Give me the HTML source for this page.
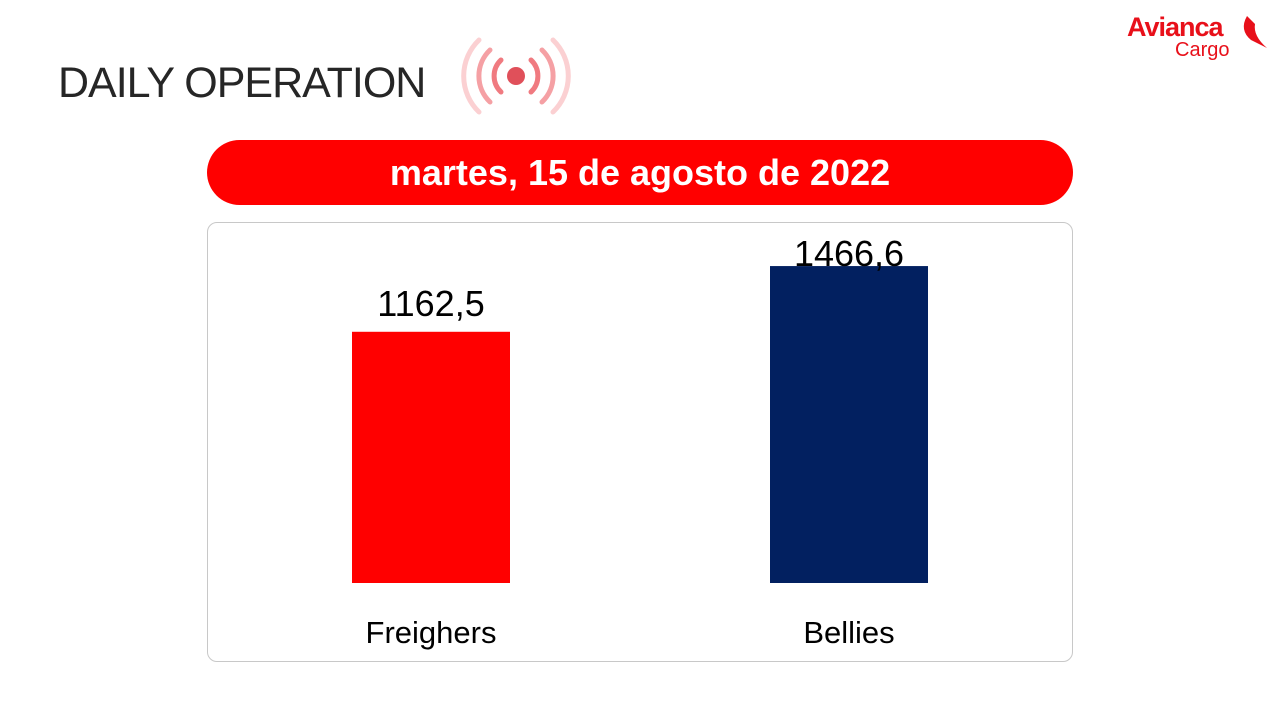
<!DOCTYPE html>
<html><head><meta charset="utf-8"><style>
body{margin:0;width:1280px;height:720px;background:#fff;position:relative;overflow:hidden;font-family:"Liberation Sans",sans-serif}
#title{position:absolute;left:58px;top:59px;font-size:43px;color:#262626;letter-spacing:-1px}
#date{position:absolute;left:207px;top:140px;width:866px;height:65px;background:#ff0000;border-radius:33px;color:#fff;font-weight:bold;font-size:36px;text-align:center;line-height:65px}
#box{position:absolute;left:207px;top:222px;width:864px;height:438px;border:1px solid #c8c8c8;border-radius:10px}
</style></head><body>
<div id="title">DAILY OPERATION</div>
<svg style="position:absolute;left:455px;top:32px" width="125" height="90">
<circle cx="61" cy="44" r="9" fill="#e0505a"/>
<g fill="none" stroke-linecap="round">
<path d="M46 28 A22 22 0 0 0 46 60" stroke="#f07a80" stroke-width="5"/>
<path d="M76 28 A22 22 0 0 1 76 60" stroke="#f07a80" stroke-width="5"/>
<path d="M35 18 A36 36 0 0 0 35 70" stroke="#f5a0a4" stroke-width="5"/>
<path d="M87 18 A36 36 0 0 1 87 70" stroke="#f5a0a4" stroke-width="5"/>
<path d="M24 8 A50 50 0 0 0 24 80" stroke="#fbd0d2" stroke-width="5"/>
<path d="M98 8 A50 50 0 0 1 98 80" stroke="#fbd0d2" stroke-width="5"/>
</g></svg>
<div style="position:absolute;left:1127px;top:12px;color:#e8101a">
<div style="font-size:27px;font-weight:bold;letter-spacing:-1px">Avianca</div>
<div style="font-size:20px;margin-left:48px;margin-top:-4px">Cargo</div>
<svg style="position:absolute;left:110px;top:2px" width="32" height="36"><path d="M10 2 Q2 16 14 26 L30 34 Q16 22 18 10 Z" fill="#e8101a"/></svg>
</div>
<div id="date">martes, 15 de agosto de 2022</div>
<div id="box"></div>
<svg id="chart" style="position:absolute;left:0;top:0" width="1280" height="720"></svg>
<script>
const categories=["Freighers","Bellies"];
const values=[1162.5,1466.6];
const labels=["1162,5","1466,6"];
const colors=["#ff0000","#022060"];
const svg=document.getElementById('chart');
const NS="http://www.w3.org/2000/svg";
const base=583, scale=0.2161;
const yPos=v=>base-v*scale;
const xCenter=i=>431+i*418;
categories.forEach((c,i)=>{
  const top=yPos(values[i]);
  const r=document.createElementNS(NS,'rect');
  r.setAttribute('x',xCenter(i)-79);r.setAttribute('y',top);
  r.setAttribute('width',158);r.setAttribute('height',base-top);
  r.setAttribute('fill',colors[i]);
  
  
  svg.appendChild(r);
  const t=document.createElementNS(NS,'text');
  t.setAttribute('x',xCenter(i));t.setAttribute('y',Math.max(top-16,266));
  t.setAttribute('text-anchor','middle');t.setAttribute('font-size','36');
  t.setAttribute('font-family','Liberation Sans, sans-serif');
  t.textContent=labels[i];
  
  
  svg.appendChild(t);
  const l=document.createElementNS(NS,'text');
  l.setAttribute('x',xCenter(i));l.setAttribute('y',643);
  l.setAttribute('text-anchor','middle');l.setAttribute('font-size','31');
  l.setAttribute('font-family','Liberation Sans, sans-serif');
  l.textContent=c;
  
  
  svg.appendChild(l);
});
</script>
</body></html>
